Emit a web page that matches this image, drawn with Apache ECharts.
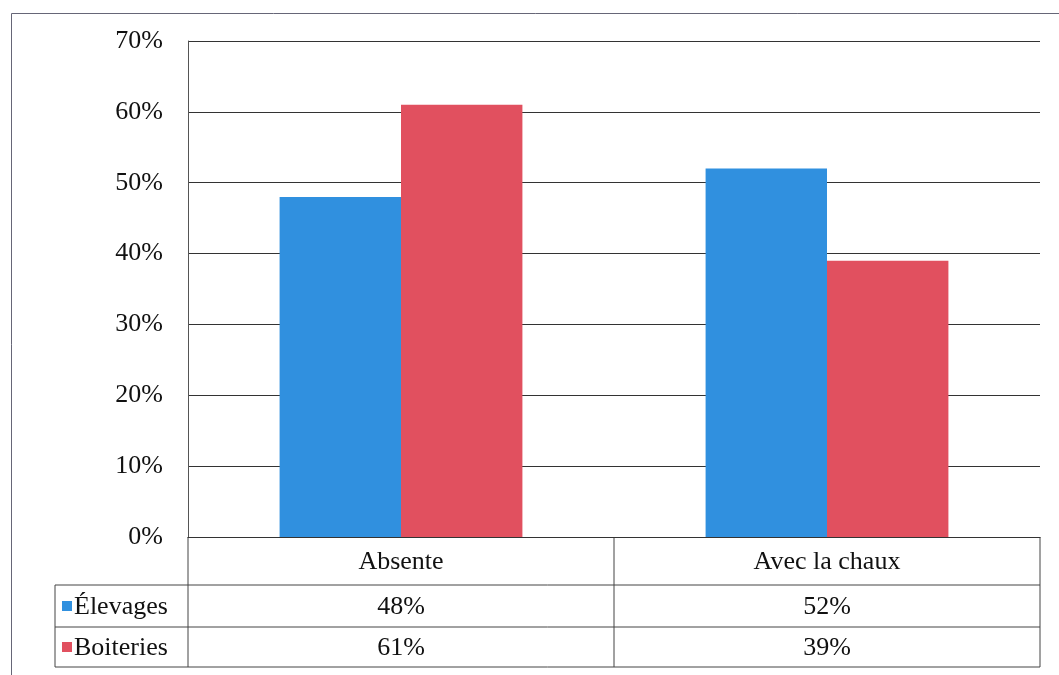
<!DOCTYPE html>
<html><head><meta charset="utf-8">
<script src="https://cdn.jsdelivr.net/npm/echarts@6/dist/echarts.min.js"></script>
<style>html,body{margin:0;padding:0;background:#fff}#c{width:1059px;height:675px}</style>
</head><body><div id="c"></div>
<script>
const categories = ['Absente', 'Avec la chaux'];
const seriesNames = ['Élevages', 'Boiteries'];
const elevages = [0.48, 0.52];
const boiteries = [0.61, 0.39];
const colors = ['#3090DF', '#E1505F'];
const FONT = '"Liberation Serif", "DejaVu Serif", serif';

const chart = echarts.init(document.getElementById('c'), null, {renderer: 'canvas'});
const gridLeft = 188, gridRight = 19, gridTop = 41, gridBottom = 138;
chart.setOption({
  animation: false,
  backgroundColor: '#fff',
  grid: {left: gridLeft, right: gridRight, top: gridTop, bottom: gridBottom},
  xAxis: {
    type: 'category', data: categories,
    axisLine: {show: true, lineStyle: {color: '#333', width: 1}},
    axisTick: {show: false}, axisLabel: {show: false}
  },
  yAxis: {
    type: 'value', min: 0, max: 0.7, interval: 0.1,
    axisLine: {show: true, lineStyle: {color: '#555', width: 1}},
    axisTick: {show: false},
    splitLine: {lineStyle: {color: '#333', width: 1}},
    axisLabel: {margin: 25, color: '#111', fontFamily: FONT, fontSize: 26,
      formatter: v => Math.round(v * 100) + '%'}
  },
  series: [
    {name: seriesNames[0], type: 'bar', data: elevages, itemStyle: {color: colors[0]},
     barGap: '0%', barCategoryGap: '43%'},
    {name: seriesNames[1], type: 'bar', data: boiteries, itemStyle: {color: colors[1]},
     barGap: '0%', barCategoryGap: '43%'}
  ]
});

// data table below the chart
const c0 = chart.convertToPixel({xAxisIndex: 0}, 0);
const c1 = chart.convertToPixel({xAxisIndex: 0}, 1);
const band = c1 - c0;
const xL = c0 - band / 2, xM = c0 + band / 2, xR = c1 + band / 2;
const y0 = chart.convertToPixel({yAxisIndex: 0}, 0);
const rowY = [y0, 585, 627, 667];
const legX = 55;
const line = (x1, y1, x2, y2) => ({type: 'line', shape: {x1, y1, x2, y2},
  style: {stroke: '#444', lineWidth: 1}, silent: true});
const text = (t, x, y, align) => ({type: 'text', x, y,
  style: {text: t, fill: '#111', font: '26px ' + FONT, textAlign: align || 'center', textVerticalAlign: 'middle'}});
const g = [];
// outer frame
g.push({type: 'rect', shape: {x: 11.5, y: 13.5, width: 1060, height: 670},
  style: {fill: null, stroke: '#667', lineWidth: 1}, silent: true});
g.push(line(xL, rowY[0], xL, rowY[3]));
g.push(line(xM, rowY[0], xM, rowY[3]));
g.push(line(xR, rowY[0], xR, rowY[3]));
g.push(line(legX, rowY[1], legX, rowY[3]));
for (let i = 1; i < 4; i++) g.push(line(legX, rowY[i], xR, rowY[i]));
const centers = [c0, c1];
const rows = [elevages, boiteries];
categories.forEach((cat, i) => g.push(text(cat, centers[i], (rowY[0] + rowY[1]) / 2 + 1)));
rows.forEach((vals, r) => {
  const yc = (rowY[r + 1] + rowY[r + 2]) / 2;
  vals.forEach((v, i) => g.push(text(Math.round(v * 100) + '%', centers[i], yc + 1)));
  g.push({type: 'rect', shape: {x: 62, y: yc - 5, width: 10, height: 10}, style: {fill: colors[r]}});
  g.push(text(seriesNames[r], 74, yc + 1, 'left'));
});
chart.setOption({graphic: g});
</script></body></html>
